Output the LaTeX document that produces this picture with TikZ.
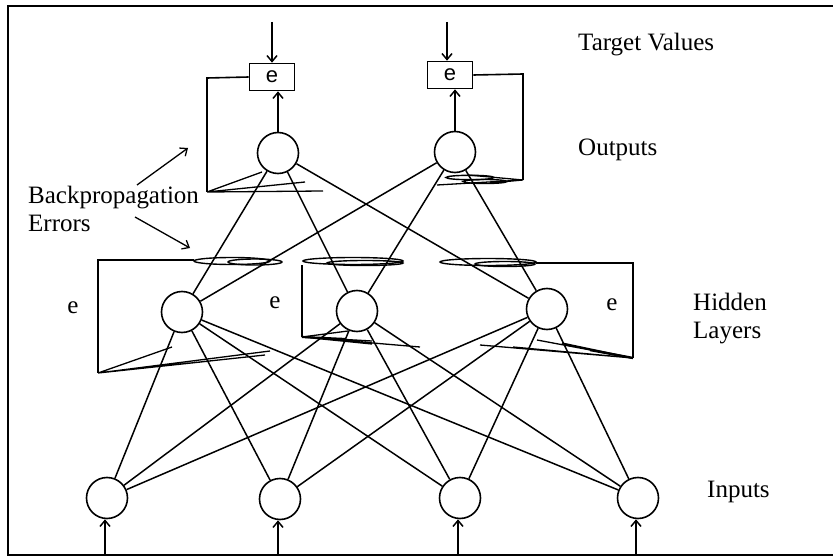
\documentclass[tikz,border=0pt]{standalone}
\usepackage{fontspec}
\setmainfont{Liberation Serif}
\newfontfamily\boxfont{Liberation Sans}
\usetikzlibrary{arrows.meta}
\begin{document}
\begin{tikzpicture}[x=1pt,y=-1pt,
  neuron/.style={circle,draw,line width=1.6pt,minimum size=41pt,inner sep=0pt},
  errbox/.style={draw,line width=1.6pt,minimum width=45pt,minimum height=27pt,inner sep=0pt,font=\boxfont\fontsize{22}{24}\selectfont},
  lbl/.style={font=\fontsize{25}{28}\selectfont,inner sep=0pt,anchor=west,align=left},
  elbl/.style={font=\fontsize{25}{28}\selectfont,inner sep=0pt},
  conn/.style={line width=1.5pt},
  arr/.style={line width=1.5pt,-{Straight Barb[length=6pt,width=10pt]}},
  fb/.style={line width=1.6pt},
  fan/.style={line width=1.3pt},
  blob/.style={line width=1.4pt}]
\useasboundingbox (0,0) rectangle (833,559);
% frame
\draw[line width=2.8pt] (833,6) -- (8,6) -- (8,555) -- (833,555);

% neurons
\node[neuron] (O1) at (278,153) {};
\node[neuron] (O2) at (455,152) {};
\node[neuron] (H1) at (182,312) {};
\node[neuron] (H2) at (357,311) {};
\node[neuron] (H3) at (547,309) {};
\node[neuron] (I1) at (107,498) {};
\node[neuron] (I2) at (280,499) {};
\node[neuron] (I3) at (460,498) {};
\node[neuron] (I4) at (638,498) {};

% error boxes
\node[errbox] (E1) at (272,77) {e};
\node[errbox] (E2) at (450,75) {e};

% target arrows
\coordinate (t1) at (272,22);
\coordinate (t2) at (447,22);
\draw[arr] (t1) -- (t1 |- E1.north);
\draw[arr] (t2) -- (t2 |- E2.north);
\draw[arr] (O1.north) -- (O1.north |- E1.south);
\draw[arr] (O2.north) -- (O2.north |- E2.south);

% input arrows
\foreach \i in {I1,I2,I3,I4}{
  \coordinate (b\i) at ([xshift=-2pt]\i.south |- 0,555);
  \draw[arr] (b\i) -- (b\i |- \i.south);
}

% connections
\foreach \h in {H1,H2,H3}{
  \foreach \i in {I1,I2,I3,I4}{
    \draw[conn] (\i) -- (\h);
  }
  \foreach \o in {O1,O2}{
    \draw[conn] (\h) -- (\o);
  }
}

% output feedback
\coordinate (c1) at (207,192);
\draw[fb] (E1.west) -- (207,78) -- (c1);
\coordinate (f1a) at (262,172);
\coordinate (f1b) at (323,191);
\coordinate (f1c) at (305,182);
\draw[fan] (c1) -- (f1a) (c1) -- (f1b) (c1) -- (f1c);

\coordinate (c2) at (523,180);
\draw[fb] (E2.east) -- (523,74) -- (c2);
\coordinate (f2a) at (437,185);
\coordinate (f2b) at (468,175);
\coordinate (f2c) at (490,183);
\draw[fan] (c2) -- (f2a) (c2) -- (f2b) (c2) -- (f2c);
\draw[blob] (470,177.5) ellipse (24pt and 2.2pt);
\draw[blob] (485,181.5) ellipse (22pt and 2pt);

% hidden blobs
\draw[blob] (232,261) ellipse (38pt and 3.5pt);
\draw[blob] (255,262) ellipse (27pt and 3pt);
\draw[blob] (353,261) ellipse (50pt and 3.5pt);
\draw[blob] (365,263) ellipse (38pt and 2.5pt);
\draw[blob] (488,262) ellipse (48pt and 3.5pt);
\draw[blob] (505,264) ellipse (30pt and 2.5pt);

% hidden feedback boxes
\coordinate (h1) at (98,373);
\draw[fb] (194,260) -- (98,260) -- (h1);
\draw[fan] (h1) -- (172,347) (h1) -- (270,351) (h1) -- (265,355) (h1) -- (210,361);

\coordinate (h2) at (302,337);
\draw[fb] (302,265) -- (h2);
\draw[fan] (h2) -- (348,331) (h2) -- (372,341) (h2) -- (372,344) (h2) -- (420,347);
\draw[line width=2.2pt] (h2) -- (345,339);

\coordinate (h3) at (633,358);
\draw[fb] (536,263) -- (633,263) -- (h3);
\draw[fan] (h3) -- (537,340) (h3) -- (513,347) (h3) -- (562,343) (h3) -- (480,345);
\draw[line width=2.4pt] (h3) -- (590,350);

% labels
\node[elbl] (e1) at (73,308) {e};
\node[elbl] (e2) at (275,303) {e};
\node[elbl] (e3) at (612,305) {e};
\node[lbl] (tv) at (578,45) {Target Values};
\node[lbl] (ou) at (578,150) {Outputs};
\node[lbl] (hl) at (693,319) {Hidden\\Layers};
\node[lbl] (in) at (707,492) {Inputs};
\node[lbl] (bp) at (28,209) {Backpropagation\\Errors};

% backpropagation pointers
\coordinate (p1s) at (137,185);
\coordinate (p1e) at (188,148);
\coordinate (p2s) at (135,217);
\coordinate (p2e) at (190,248);
\draw[arr,line width=1.3pt] (p1s) -- (p1e);
\draw[arr,line width=1.3pt] (p2s) -- (p2e);
\end{tikzpicture}
\end{document}
